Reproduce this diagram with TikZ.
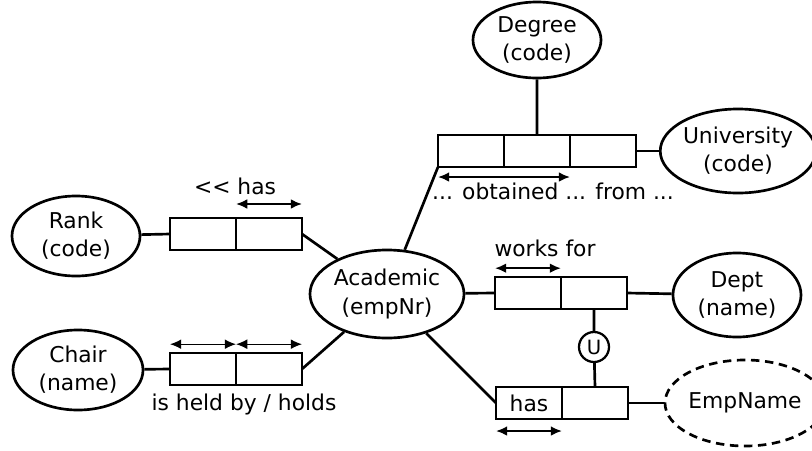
\documentclass[tikz,border=0pt]{standalone}
\usepackage{fontspec}
\setmainfont{DejaVu Sans}
\usepackage{tikz}
\usetikzlibrary{shapes.geometric, arrows.meta, positioning}

\tikzset{
    objtype/.style={draw, ellipse, line width=1.9pt, inner sep=0pt, align=center,
        font=\fontsize{15.5}{20}\selectfont},
    rolebox/.style={draw, rectangle, line width=1.9pt, outer sep=0pt, inner sep=0pt,
        minimum width=1.65cm, minimum height=0.8cm, font=\fontsize{15.5}{16}\selectfont},
    link/.style={line width=1.9pt},
    uniq/.style={{Latex[length=8pt,width=7pt]}-{Latex[length=8pt,width=7pt]}, line width=1.5pt},
    lbl/.style={font=\fontsize{15.5}{16}\selectfont, inner sep=1pt}
}

\begin{document}
\begin{tikzpicture}[x=0.025cm, y=-0.025cm]
    \useasboundingbox (0,0) rectangle (812,450);

    % Object types
    \node[objtype, minimum width=3.2cm, minimum height=2cm] (rank) at (76,236) {Rank\\(code)};
    \node[objtype, minimum width=3.25cm, minimum height=2cm] (chair) at (78,370) {Chair\\(name)};
    \node[objtype, minimum width=3.85cm, minimum height=2.2cm] (acad) at (387,294) {Academic\\(empNr)};
    \node[objtype, minimum width=3.2cm, minimum height=1.9cm] (degree) at (537,40) {Degree\\(code)};
    \node[objtype, minimum width=3.5cm, minimum height=2.1cm] (univ) at (738,151) {University\\(code)};
    \node[objtype, minimum width=3.2cm, minimum height=2.1cm] (dept) at (737,295) {Dept\\(name)};
    \node[objtype, dash pattern=on 6pt off 4pt, minimum width=3.6cm, minimum height=2.15cm] (empname) at (745,403) {EmpName};

    % Fact types
    \node[rolebox] (rankA) at (203,234) {};
    \node[rolebox, right=0pt of rankA] (rankB) {};
    \node[rolebox] (chairA) at (203,369) {};
    \node[rolebox, right=0pt of chairA] (chairB) {};
    \node[rolebox] (ternA) at (471,151) {};
    \node[rolebox, right=0pt of ternA] (ternB) {};
    \node[rolebox, right=0pt of ternB] (ternC) {};
    \node[rolebox] (worksA) at (528,293) {};
    \node[rolebox, right=0pt of worksA] (worksB) {};
    \node[rolebox] (hasA) at (529,403) {has};
    \node[rolebox, right=0pt of hasA] (hasB) {};

    % Unique constraint
    \node[draw, circle, line width=1.6pt, inner sep=0pt, minimum size=0.75cm,
        font=\fontsize{14}{14}\selectfont] (uc) at (594,347) {U};

    % Role connectors
    \draw[link] (rank) -- (rankA.west);
    \draw[link] (rankB.east) -- (acad);
    \draw[link] (chair) -- (chairA.west);
    \draw[link] (chairB.east) -- (acad);
    \draw[link] (acad) -- (ternA.south west);
    \draw[link] (degree) -- (ternB.north);
    \draw[link] (ternC.east) -- (univ);
    \draw[link] (acad) -- (worksA.west);
    \draw[link] (worksB.east) -- (dept);
    \draw[link] (acad) -- (hasA.west);
    \draw[link] (hasB.east) -- (empname);
    \draw[link] (worksB.south) -- (uc) -- (hasB.north);

    % Uniqueness arrows
    \draw[uniq] ([yshift=0.35cm]rankB.north west) -- ([yshift=0.35cm]rankB.north east);
    \draw[uniq, line width=0.9pt] ([yshift=0.22cm]chairA.north west) -- ([yshift=0.22cm]chairA.north east);
    \draw[uniq, line width=0.9pt] ([yshift=0.22cm]chairB.north west) -- ([yshift=0.22cm]chairB.north east);
    \draw[uniq] ([yshift=-0.25cm]ternA.south west) -- ([yshift=-0.25cm]ternB.south east);
    \draw[uniq] ([yshift=0.22cm]worksA.north west) -- ([yshift=0.22cm]worksA.north east);
    \draw[uniq] ([yshift=-0.3cm]hasA.south west) -- ([yshift=-0.3cm]hasA.south east);

    % Readings
    \node[lbl] (hasLbl) at (235,186) {<\kern0pt< has};
    \node[lbl] (heldLbl) at (244,404) {is held by / holds};
    \node[lbl] (obtLbl) at (553,191) {... obtained ... from ...};
    \node[lbl] (worksLbl) at (545,248) {works for};
\end{tikzpicture}
\end{document}
